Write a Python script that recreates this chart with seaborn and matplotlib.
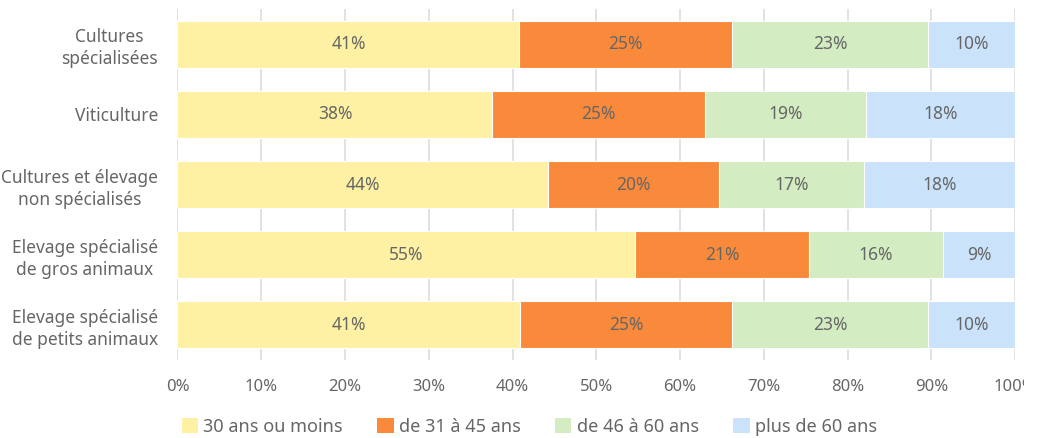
import numpy as np
import pandas as pd
import seaborn as sns
import matplotlib.pyplot as plt
from matplotlib.patches import Patch
from matplotlib.transforms import Bbox

categories = ["Cultures\nspécialisées", "Viticulture",
              "Cultures et élevage\nnon spécialisés",
              "Elevage spécialisé\nde gros animaux",
              "Elevage spécialisé\nde petits animaux"]
groupes = ["30 ans ou moins", "de 31 à 45 ans", "de 46 à 60 ans", "plus de 60 ans"]
moins_30 = [40.8, 37.6, 44.2, 54.6, 40.9]
de_31_45 = [25.4, 25.4, 20.4, 20.8, 25.3]
de_46_60 = [23.4, 19.2, 17.4, 16.0, 23.4]
plus_60 = [10.4, 17.8, 18.0, 8.6, 10.4]
couleurs = ["#FEF1A3", "#F98A3B", "#D3ECC2", "#CAE3FB"]

sns.set_style("white")
plt.rcParams['font.family'] = ['Noto Sans', 'DejaVu Sans']
gris = "#666666"

series = np.array([moins_30, de_31_45, de_46_60, plus_60])
cumul = series.cumsum(axis=0)

fig, ax = plt.subplots(figsize=(10.38, 4.38), dpi=100)
fig.subplots_adjust(left=0.171, right=0.978, top=0.979, bottom=0.178)

# barres empilées : on dessine du cumul le plus grand vers le plus petit
for i in range(3, -1, -1):
    df = pd.DataFrame({"cat": categories, "val": cumul[i]})
    sns.barplot(data=df, x="val", y="cat", orient="h", color=couleurs[i],
                width=0.67, edgecolor="white", linewidth=0.8, saturation=1, ax=ax)

for i in range(4):
    debut = cumul[i] - series[i]
    for j in range(len(categories)):
        ax.text(debut[j] + series[i][j] / 2, j, f"{series[i][j]:.0f}%",
                ha="center", va="center", fontsize=12.5, color=gris)

ax.set_xlim(0, 100)
ax.set_ylim(4.5, -0.5)
ax.set_xticks(np.arange(0, 101, 10))
ax.set_xticklabels([f"{t}%" for t in range(0, 101, 10)])
ax.grid(axis="x", color="#DDDDDD", linewidth=1.2)
ax.set_axisbelow(True)
ax.tick_params(axis="x", length=0, pad=14, labelsize=12, labelcolor=gris)
ax.tick_params(axis="y", length=0, pad=14, labelsize=12.5, labelcolor=gris)
for lab in ax.get_yticklabels():
    lab.set_multialignment("center")
    lab.set_linespacing(1.3)
ax.set_xlabel("")
ax.set_ylabel("")
sns.despine(ax=ax, left=True, bottom=True)

# le dernier libellé est coupé dans l'original
ax.get_xticklabels()[-1].set_clip_box(Bbox.from_extents(0, 0, 1024, 438))
ax.get_xticklabels()[-1].set_clip_on(True)

poignees = [Patch(facecolor=c, edgecolor="none") for c in couleurs]
fig.legend(poignees, groupes, loc="lower center", ncol=4, frameon=False,
           bbox_to_anchor=(0.51, -0.032), fontsize=13, labelcolor=gris,
           handlelength=0.9, handleheight=0.9, handletextpad=0.3, columnspacing=1.9)

fig.savefig("out.png", dpi=100)
